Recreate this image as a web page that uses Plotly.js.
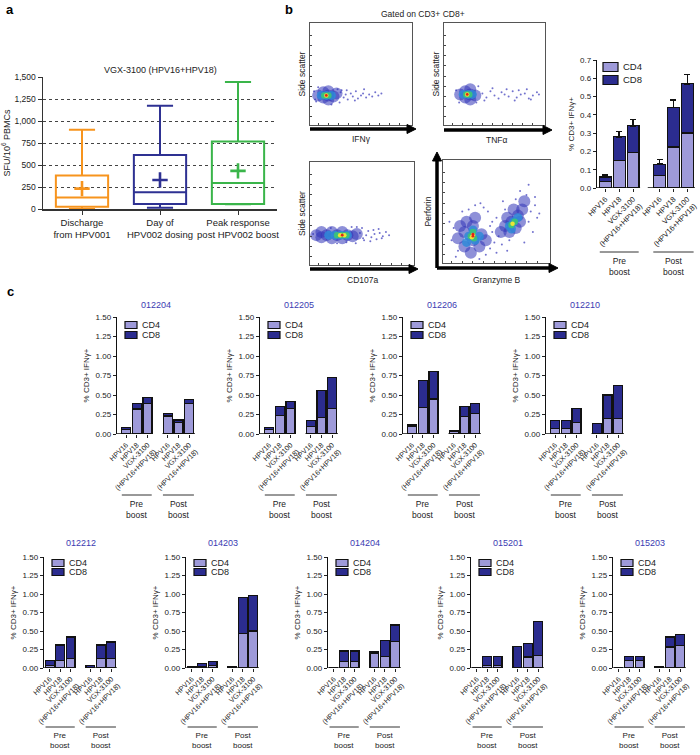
<!DOCTYPE html>
<html><head><meta charset="utf-8">
<script src="https://cdn.plot.ly/plotly-3.0.1.min.js"></script>
<style>html,body{margin:0;padding:0;background:#fff}#chart{width:700px;height:755px}</style>
</head><body><div id="chart"></div>
<script>
// ================= DATA =================
// Panel a: box plot summary
const aCategories = ['Discharge<br>from HPV001', 'Day of<br>HPV002 dosing', 'Peak response<br>post HPV002 boost'];
const aMin    = [0, 15, 55];
const aQ1     = [25, 57, 57];
const aMedian = [130, 190, 296];
const aQ3     = [380, 615, 767];
const aMax    = [900, 1173, 1443];
const aMean   = [232, 330, 433];
const aTicks  = [0, 250, 500, 750, 1000, 1250, 1500];

// Stimulus tick labels and groups (panels b and c)
const stimLabels  = ['HPV16', 'HPV18', 'VGX-3100<br>(HPV16+HPV18)', 'HPV16', 'HPV18', 'VGX-3100<br>(HPV16+HPV18)'];
const groupLabels = ['Pre<br>boost', 'Post<br>boost'];

// Panel b: mean stacked bars with SEM
const bCD4    = [0.035, 0.15, 0.195, 0.07, 0.225, 0.30];
const bCD8    = [0.025, 0.13, 0.145, 0.06, 0.215, 0.27];
const bCD4Err = [0.010, 0.04, 0.055, 0.03, 0.035, 0.04];
const bCD8Err = [0.010, 0.03, 0.035, 0.025, 0.04, 0.05];

// Panel c: individual patients
const cIDs = ['012204', '012205', '012206', '012210', '012212', '014203', '014204', '015201', '015203'];
const c012204_CD4 = [0.06, 0.32, 0.39, 0.23, 0.15, 0.39];
const c012204_CD8 = [0.02, 0.07, 0.08, 0.03, 0.03, 0.05];
const c012205_CD4 = [0.06, 0.24, 0.33, 0.10, 0.21, 0.325];
const c012205_CD8 = [0.02, 0.11, 0.09, 0.075, 0.35, 0.395];
const c012206_CD4 = [0.095, 0.34, 0.45, 0.035, 0.22, 0.265];
const c012206_CD8 = [0.02, 0.35, 0.35, 0.01, 0.13, 0.125];
const c012210_CD4 = [0.075, 0.07, 0.145, 0, 0.20, 0.20];
const c012210_CD8 = [0.095, 0.105, 0.185, 0.135, 0.30, 0.42];
const c012212_CD4 = [0.03, 0.10, 0.13, 0, 0.13, 0.13];
const c012212_CD8 = [0.07, 0.21, 0.29, 0.035, 0.18, 0.22];
const c014203_CD4 = [0.01, 0.02, 0.035, 0.01, 0.465, 0.50];
const c014203_CD8 = [0.01, 0.04, 0.055, 0.015, 0.485, 0.48];
const c014204_CD4 = [0, 0.085, 0.085, 0.20, 0.155, 0.36];
const c014204_CD8 = [0, 0.145, 0.145, 0.015, 0.215, 0.22];
const c015201_CD4 = [0, 0.035, 0.035, 0, 0.15, 0.165];
const c015201_CD8 = [0, 0.12, 0.12, 0.29, 0.18, 0.465];
const c015203_CD4 = [0, 0.10, 0.10, 0, 0.285, 0.30];
const c015203_CD8 = [0, 0.06, 0.06, 0.02, 0.135, 0.15];
const cCD4 = [c012204_CD4, c012205_CD4, c012206_CD4, c012210_CD4, c012212_CD4, c014203_CD4, c014204_CD4, c015201_CD4, c015203_CD4];
const cCD8 = [c012204_CD8, c012205_CD8, c012206_CD8, c012210_CD8, c012212_CD8, c014203_CD8, c014204_CD8, c015201_CD8, c015203_CD8];

// Flow cytometry illustrations (event layers: 5 = sparse event, 0 outer density ... 4 core)
const ifngX = [30,33,35,37,40,42,45,47,50,52,55,58,61,64,67,4,5,27,29,8,21,6,31,36,44,53,70, 8,13,13,18,23,26,18,18, 11,16,21, 14,18, 16, 16];
const ifngY = [32,27,30,25,31,28,33,26,29,31,27,30,28,32,29,33,25,35,22,37,20,23,34,34,24,35,31, 29,27,32,29,28,31,33,25, 29,29,29, 29,29, 29, 29];
const ifngL = [5,5,5,5,5,5,5,5,5,5,5,5,5,5,5,5,5,5,5,5,5,5,5,5,5,5,5, 0,0,0,0,0,0,0,0, 1,1,1, 2,2, 3, 4];
const tnfX = [38,42,46,50,54,57,60,64,68,72,76,80,84,88,92,94,40,62,74,86,12,34,32,15,48,70,82, 16,21,21,26,31,26,26, 19,24,28, 22,25, 23, 23];
const tnfY = [31,27,33,29,26,32,30,28,33,27,30,31,26,29,32,30,24,35,34,25,34,38,22,22,36,24,35, 30,27,33,30,29,35,25, 30,30,30, 30,30, 30, 30];
const tnfL = [5,5,5,5,5,5,5,5,5,5,5,5,5,5,5,5,5,5,5,5,5,5,5,5,5,5,5, 0,0,0,0,0,0,0, 1,1,1, 2,2, 3, 4];
const cd107X = [48,51,54,56,59,62,64,67,70,73,76,50,58,66,45,3,44,20,35,52,61,69,40,26, 6,11,11,16,21,21,26,31,31,36,41,45, 18,24,30,36, 26,31,35, 29,33, 31];
const cd107Y = [31,26,29,33,27,30,25,31,28,32,29,36,23,35,37,30,21,36,22,24,34,26,37,21, 29,27,32,29,26,32,29,26,32,29,28,30, 29,29,29,29, 29,29,29, 29,29, 29];
const cd107L = [5,5,5,5,5,5,5,5,5,5,5,5,5,5,5,5,5,5,5,5,5,5,5,5, 0,0,0,0,0,0,0,0,0,0,0,0, 1,1,1,1, 2,2,2, 3,3, 4];
const gzbX = [8,10,14,40,44,46,48,50,52,42,38,35,12,55,80,82,78,84,86,72,68,58,76,88,60,30,34,6,18,46,50,56,86,90,62,80,44,24, 14,20,20,26,28,28,34,36,30,22,40,16, 54,58,62,64,68,70,74,76,60,72,66, 24,30,28,22,34, 62,66,70,64, 26,29,28, 64,67, 28,27, 65, 28,28];
const gzbY = [22,34,12,8,14,30,20,44,26,50,54,58,6,18,40,50,66,30,56,70,62,52,20,44,12,56,4,40,50,40,10,60,64,48,22,76,36,52, 24,16,30,10,22,36,16,28,44,40,22,36, 30,36,30,40,34,46,52,60,44,40,52, 26,22,32,20,26, 36,40,44,33, 26,24,30, 37,40, 27,25, 38, 28,26];
const gzbL = [5,5,5,5,5,5,5,5,5,5,5,5,5,5,5,5,5,5,5,5,5,5,5,5,5,5,5,5,5,5,5,5,5,5,5,5,5,5, 0,0,0,0,0,0,0,0,0,0,0,0, 0,0,0,0,0,0,0,0,0,0,0, 1,1,1,1,1, 1,1,1,1, 2,2,2, 2,2, 3,3, 3, 4,4];

// ================= STYLE / LAYOUT =================
const W = 700, H = 755;
const fx = p => p / W;
const fy = p => 1 - p / H;
const FONT = 'Liberation Sans, Arial, Helvetica, sans-serif';
const CD4C = '#9e9ad9';
const CD8C = '#2b2c8f';
const TITLEC = '#3b3bb2';
const aColors = ['#F7941D', '#2E3192', '#3AB54A'];
const LAYER_SIZE = [12, 9, 6.5, 4.5, 2.8, 2];
const LAYER_COLOR = ['#3234b8', '#2f8ad8', '#3cc27a', '#ece437', '#e2231a', '#4343bd'];
const LAYER_OPAC = [0.55, 0.85, 0.95, 1, 1, 0.75];
const GAP = 0.9;
const pos = stimLabels.map((_, i) => i + (i >= 3 ? GAP : 0));

const layout = {
  width: W, height: H, margin: {l: 0, r: 0, t: 0, b: 0},
  paper_bgcolor: '#fff', plot_bgcolor: 'rgba(0,0,0,0)',
  showlegend: false, barmode: 'stack', boxmode: 'overlay',
  font: {family: FONT, size: 9, color: '#222'},
  annotations: [], shapes: []
};
const traces = [];

function ann(x, y, text, opts) {
  layout.annotations.push(Object.assign({xref: 'paper', yref: 'paper', x: fx(x), y: fy(y), text: text, showarrow: false, xanchor: 'center', yanchor: 'middle', font: {size: 9, color: '#222'}}, opts || {}));
}

// Panel labels
ann(10, 10, '<b>a</b>', {font: {size: 13, color: '#000'}});
ann(289, 10, '<b>b</b>', {font: {size: 13, color: '#000'}});
ann(10, 291, '<b>c</b>', {font: {size: 13, color: '#000'}});

// ---------- Panel a ----------
layout.xaxis = {domain: [fx(43), fx(277)], anchor: 'y', type: 'category', range: [-0.5, 2.5], showline: true, linecolor: '#333', linewidth: 1.5,
  ticks: 'outside', ticklen: 4, tickcolor: '#333', tickfont: {size: 9.5, color: '#222'}, showgrid: false, zeroline: false, fixedrange: true};
layout.yaxis = {domain: [fy(209), fy(77)], anchor: 'x', range: [0, 1500], tickvals: aTicks, tickformat: ',', showline: true, linecolor: '#333', linewidth: 1.5,
  ticks: 'outside', ticklen: 4, tickcolor: '#333', tickfont: {size: 8.5, color: '#222'}, showgrid: true, gridcolor: '#444', griddash: 'dot', gridwidth: 1,
  zeroline: false, title: {text: 'SFU/10<sup>6</sup> PBMCs', font: {size: 9, color: '#222'}, standoff: 6}};
aCategories.forEach((c, i) => {
  traces.push({type: 'box', x: [c], q1: [aQ1[i]], median: [aMedian[i]], q3: [aQ3[i]], lowerfence: [aMin[i]], upperfence: [aMax[i]],
    xaxis: 'x', yaxis: 'y', width: 0.67, whiskerwidth: 0.5, line: {color: aColors[i], width: 2}, fillcolor: 'rgba(255,255,255,0)', boxpoints: false, hoverinfo: 'skip'});
  traces.push({type: 'scatter', mode: 'markers', x: [c], y: [aMean[i]], xaxis: 'x', yaxis: 'y',
    marker: {symbol: 'cross-thin', size: 11, color: aColors[i], line: {width: 2.6, color: aColors[i]}}, hoverinfo: 'skip'});
});
ann(160, 70, 'VGX-3100 (HPV16+HPV18)', {font: {size: 9, color: '#222'}});

// ---------- Panel b flow plots ----------
ann(423, 14, 'Gated on CD3+ CD8+', {font: {size: 8.5, color: '#222'}});
const flows = [
  {id: 2, bx: [310, 412], by: [23, 125], yt: 'Side scatter', so: 2, X: ifngX, Y: ifngY, L: ifngL},
  {id: 3, bx: [444, 545], by: [23, 125], yt: 'Side scatter', so: 2, X: tnfX, Y: tnfY, L: tnfL},
  {id: 4, bx: [310, 414], by: [162, 265], yt: 'Side scatter', so: 2, X: cd107X, Y: cd107Y, L: cd107L},
  {id: 5, bx: [443, 550], by: [160, 263], yt: 'Perforin', so: 9, X: gzbX, Y: gzbY, L: gzbL}
];
flows.forEach(f => {
  const tv = [8, 18, 28, 38, 48, 58, 68, 78, 88];
  layout['xaxis' + f.id] = {domain: [fx(f.bx[0]), fx(f.bx[1])], anchor: 'y' + f.id, range: [0, 100], showline: true, mirror: true, linecolor: '#555', linewidth: 1,
    ticks: 'inside', ticklen: 2, tickcolor: '#444', tickvals: tv, showticklabels: false, showgrid: false, zeroline: false, fixedrange: true};
  layout['yaxis' + f.id] = {domain: [fy(f.by[1]), fy(f.by[0])], anchor: 'x' + f.id, range: [0, 100], showline: true, mirror: true, linecolor: '#555', linewidth: 1,
    ticks: 'inside', ticklen: 2, tickcolor: '#444', tickvals: tv, showticklabels: false, showgrid: false, zeroline: false, fixedrange: true,
    title: {text: f.yt, font: {size: 8.5, color: '#222'}, standoff: f.so}};
  traces.push({type: 'scatter', mode: 'markers', x: f.X, y: f.Y, xaxis: 'x' + f.id, yaxis: 'y' + f.id, hoverinfo: 'skip', cliponaxis: true,
    marker: {size: f.L.map(l => LAYER_SIZE[l]), color: f.L.map(l => LAYER_COLOR[l]), opacity: f.L.map(l => LAYER_OPAC[l]), line: {width: 0}}});
});
// thick black arrows drawn as shapes (paper coordinates)
function arrow(x0, y0, x1, y1) {
  const hl = 9, hw = 4.5;
  const horiz = (y0 === y1);
  const dir = horiz ? Math.sign(x1 - x0) : Math.sign(y1 - y0);
  if (horiz) {
    layout.shapes.push({type: 'line', xref: 'paper', yref: 'paper', x0: fx(x0), x1: fx(x1 - dir * hl), y0: fy(y0), y1: fy(y0), line: {color: '#000', width: 3.5}});
    layout.shapes.push({type: 'path', xref: 'paper', yref: 'paper', fillcolor: '#000', line: {color: '#000', width: 1},
      path: `M${fx(x1 - dir * hl)},${fy(y1 - hw)} L${fx(x1)},${fy(y1)} L${fx(x1 - dir * hl)},${fy(y1 + hw)} Z`});
  } else {
    layout.shapes.push({type: 'line', xref: 'paper', yref: 'paper', x0: fx(x0), x1: fx(x0), y0: fy(y0), y1: fy(y1 - dir * hl), line: {color: '#000', width: 3.5}});
    layout.shapes.push({type: 'path', xref: 'paper', yref: 'paper', fillcolor: '#000', line: {color: '#000', width: 1},
      path: `M${fx(x1 - hw)},${fy(y1 - dir * hl)} L${fx(x1)},${fy(y1)} L${fx(x1 + hw)},${fy(y1 - dir * hl)} Z`});
  }
}
arrow(310, 129, 416, 129);
arrow(444, 130, 552, 130);
arrow(310, 269, 418, 269);
arrow(437, 268, 558, 268);
arrow(437, 268, 437, 152);
ann(361, 139, 'IFNγ', {font: {size: 8.5}});
ann(497, 140, 'TNFα', {font: {size: 8.5}});
ann(362, 280, 'CD107a', {font: {size: 8.5}});
ann(497, 280, 'Granzyme B', {font: {size: 8.5}});

// ---------- Bar chart helper (panels b and c) ----------
function barChart(id, cd4, cd8, g) {
  const xa = 'x' + id, ya = 'y' + id;
  const yTicks = g.yTicks;
  layout['xaxis' + id] = {domain: [fx(g.x0), fx(g.x1)], anchor: ya, range: g.xr, tickvals: pos, ticktext: stimLabels, tickangle: -45,
    tickfont: {size: g.tf, color: '#222'}, ticks: 'outside', ticklen: 3, tickcolor: '#222', showline: false, showgrid: false, zeroline: false, fixedrange: true};
  layout['yaxis' + id] = {domain: [fy(g.yb), fy(g.yt)], anchor: xa, range: [0, yTicks[yTicks.length - 1]], tickvals: yTicks, tickformat: g.fmt,
    tickfont: {size: 8, color: '#222'}, ticks: 'outside', ticklen: 3, tickcolor: '#222', showline: true, linecolor: '#111', linewidth: 1.3,
    showgrid: false, zeroline: false, fixedrange: true, title: {text: '% CD3+ IFNγ+', font: {size: 8, color: '#222'}, standoff: 4}};
  const t4 = {type: 'bar', x: pos, y: cd4, width: 0.85, xaxis: xa, yaxis: ya, name: 'CD4', hoverinfo: 'skip',
    marker: {color: CD4C, line: {color: '#111', width: 1.3}}};
  const t8 = {type: 'bar', x: pos, y: cd8, width: 0.85, xaxis: xa, yaxis: ya, name: 'CD8', hoverinfo: 'skip',
    marker: {color: CD8C, line: {color: '#111', width: 1.3}}};
  if (g.err4) {
    t4.error_y = {type: 'data', symmetric: false, array: g.err4, arrayminus: g.err4.map(() => 0), color: '#111', thickness: 1.5, width: 3};
    t8.error_y = {type: 'data', symmetric: false, array: g.err8, arrayminus: g.err8.map(() => 0), color: '#111', thickness: 1.5, width: 3};
  }
  traces.push(t4, t8);
  // broken x axis line (pre / post)
  layout.shapes.push({type: 'line', xref: xa, yref: ya, x0: g.xr[0], x1: 2.5, y0: 0, y1: 0, line: {color: '#111', width: 1.3}});
  layout.shapes.push({type: 'line', xref: xa, yref: ya, x0: g.postStart, x1: g.xr[1], y0: 0, y1: 0, line: {color: '#111', width: 1.3}});
  // group lines and labels
  [[-0.4, 2.4, 1], [3 + GAP - 0.45, 5 + GAP + 0.45, 4 + GAP]].forEach((r, k) => {
    layout.shapes.push({type: 'line', xref: xa, yref: 'paper', x0: r[0], x1: r[1], y0: fy(g.lineY), y1: fy(g.lineY), line: {color: '#333', width: 1}});
    layout.annotations.push({xref: xa, yref: 'paper', x: r[2], y: fy(g.lineY + 2), yanchor: 'top', xanchor: 'center', showarrow: false,
      text: groupLabels[k], font: {size: g.gf, color: '#222'}});
  });
  // legend
  const lx = g.x0 + g.lgx;
  [[CD4C, 'CD4', g.yt + g.lg1], [CD8C, 'CD8', g.yt + g.lg2]].forEach(e => {
    layout.shapes.push({type: 'rect', xref: 'paper', yref: 'paper', x0: fx(lx), x1: fx(lx + g.sw), y0: fy(e[2] + g.sh / 2), y1: fy(e[2] - g.sh / 2),
      fillcolor: e[0], line: {color: '#111', width: 1.2}});
    ann(lx + g.sw + 3, e[2], e[1], {xanchor: 'left', font: {size: g.lf, color: '#222'}});
  });
  if (g.title) ann((g.x0 + g.x1) / 2, g.titleY, g.title, {font: {size: 9, color: TITLEC}});
}

// Panel b bar chart
barChart(6, bCD4, bCD8, {x0: 597, x1: 695, yt: 60, yb: 188, xr: [-0.6, 6.45], postStart: 3.05, yTicks: [0, 0.1, 0.2, 0.3, 0.4, 0.5, 0.6, 0.7],
  fmt: '.1f', tf: 7.5, gf: 8.5, lineY: 252, lgx: 6, lg1: 7, lg2: 20, sw: 15, sh: 9, lf: 9.5, err4: bCD4Err, err8: bCD8Err});

// Panel c
const row1X = [117, 260, 403, 546];
const row2X = [44, 186, 328, 471, 613];
const cTicks = [0, 0.25, 0.5, 0.75, 1.0, 1.25, 1.5];
cIDs.forEach((id, k) => {
  const r1 = k < 4;
  const ax = r1 ? row1X[k] : row2X[k - 4];
  barChart(7 + k, cCD4[k], cCD8[k], r1 ?
    {x0: ax, x1: ax + 78, yt: 317, yb: 434, xr: [-0.85, 6.45], postStart: 3.4, yTicks: cTicks, fmt: '.2f', tf: 7.2, gf: 8.5, lineY: 495,
      lgx: 8, lg1: 8, lg2: 18, sw: 12, sh: 7, lf: 9, title: id, titleY: 305} :
    {x0: ax, x1: ax + 73, yt: 557, yb: 668, xr: [-0.55, 6.45], postStart: 3.4, yTicks: cTicks, fmt: '.2f', tf: 7.2, gf: 8, lineY: 727,
      lgx: 8, lg1: 6, lg2: 15, sw: 12, sh: 7, lf: 9, title: id, titleY: 543});
});

Plotly.newPlot('chart', traces, layout, {staticPlot: true, displayModeBar: false});
</script>
</body></html>
